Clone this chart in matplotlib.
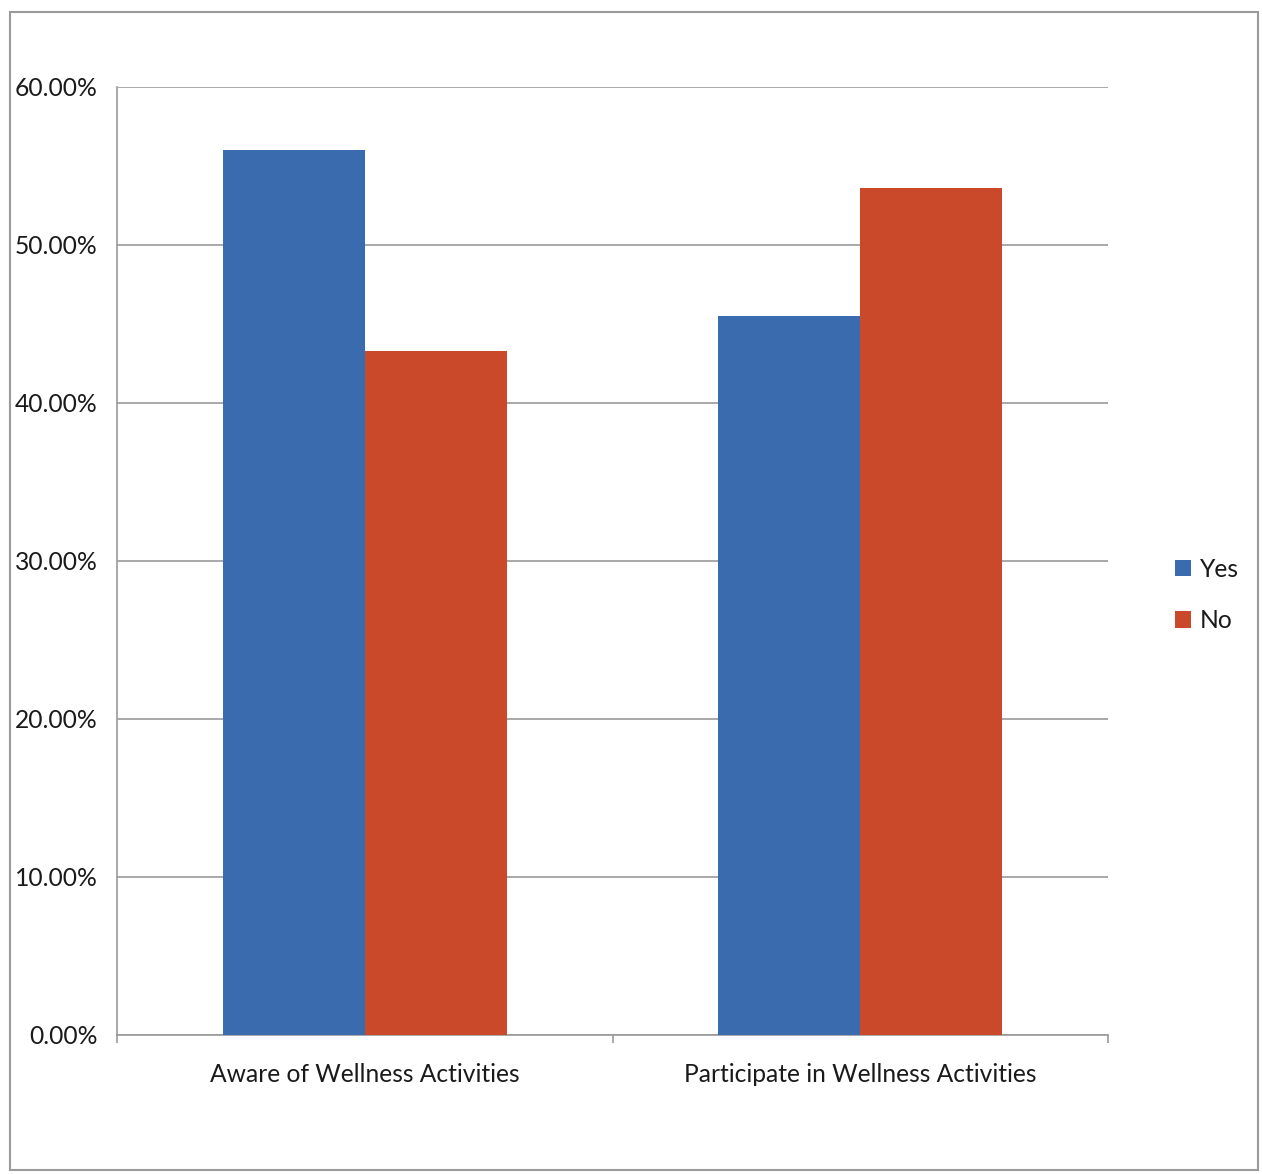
import matplotlib
matplotlib.use("Agg")
import matplotlib.pyplot as plt
from matplotlib.patches import Rectangle
import numpy as np

categories = ["Aware of Wellness Activities", "Participate in Wellness Activities"]
series_names = ["Yes", "No"]
yes_values = [56.0, 45.5]
no_values = [43.3, 53.6]
tick_values = [0, 10, 20, 30, 40, 50, 60]
tick_labels = ["0.00%", "10.00%", "20.00%", "30.00%", "40.00%", "50.00%", "60.00%"]

blue = "#3A6BAF"
red = "#C9492A"
txt = "#1a1a1a"

plt.rcParams['font.family'] = ['Lato', 'DejaVu Sans']

W, H = 1262, 1174
fig = plt.figure(figsize=(W / 100, H / 100), dpi=100)
ax = fig.add_axes([117 / W, 1 - 1035 / H, (1108 - 117) / W, (1035 - 87) / H])

x = np.arange(len(categories))
bw = 0.287
ax.bar(x - bw / 2, yes_values, width=bw, color=blue, label=series_names[0], zorder=3)
ax.bar(x + bw / 2, no_values, width=bw, color=red, label=series_names[1], zorder=3)

ax.set_xlim(-0.5, 1.5)
ax.set_ylim(0, 60)
ax.set_yticks(tick_values)
ax.set_yticklabels(tick_labels, fontsize=17.7, color=txt)
ax.yaxis.grid(True, color="#9a9a9a", linewidth=1.2, zorder=0)
ax.tick_params(axis='y', length=0, pad=14)

ax.set_xticks([-0.5, 0.5, 1.5], minor=False)
ax.set_xticklabels(["", "", ""])
ax.set_xticks(x, minor=True)
ax.set_xticklabels(categories, minor=True, fontsize=17.7, color=txt)
ax.tick_params(axis='x', which='major', length=6, color="#9a9a9a", width=1.2)
ax.tick_params(axis='x', which='minor', length=0, pad=20)

for s in ["top", "right"]:
    ax.spines[s].set_visible(False)
for s in ["left", "bottom"]:
    ax.spines[s].set_color("#9a9a9a")
    ax.spines[s].set_linewidth(1.2)

leg = fig.legend(loc="center left", bbox_to_anchor=(1153 / W, 1 - 595 / H), frameon=False,
                 fontsize=17.7, handlelength=0.65, handleheight=0.65, handletextpad=0.35,
                 labelspacing=1.15)
for t in leg.get_texts():
    t.set_color(txt)

fig.patches.append(Rectangle((10 / W, 1 - 1170 / H), (1258 - 10) / W, (1170 - 12) / H,
                             transform=fig.transFigure, fill=False, edgecolor="#9a9a9a",
                             linewidth=1.5))

fig.savefig("out.png", dpi=100, facecolor="white")
